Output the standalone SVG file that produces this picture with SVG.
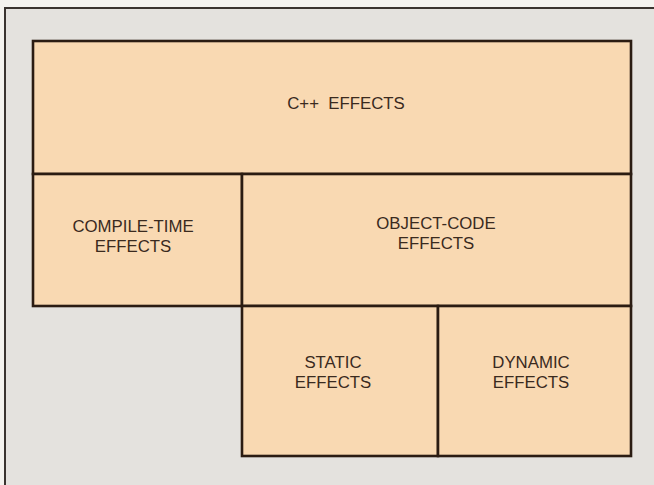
<svg xmlns="http://www.w3.org/2000/svg" width="654" height="485" viewBox="0 0 654 485">
<style>
.box{fill:#F9D9B2;stroke:#2B1C12;stroke-width:2.6}
.t{font-family:"Liberation Sans",Arial,sans-serif;font-size:16.8px;fill:#3A2A1E;text-anchor:middle}
</style>
<rect x="0" y="0" width="654" height="485" fill="#F4F3EF"/>
<rect x="5" y="8" width="660" height="490" fill="#E4E2DE" stroke="#3A3430" stroke-width="2"/>
<g id="cpp">
<rect class="box" x="33" y="41" width="598" height="133"/>
<text class="t" x="346" y="109" xml:space="preserve">C++  EFFECTS</text>
</g>
<g id="compile">
<rect class="box" x="33" y="174" width="209" height="132"/>
<text class="t" x="133" y="232">COMPILE-TIME</text>
<text class="t" x="133" y="252">EFFECTS</text>
</g>
<g id="objcode">
<rect class="box" x="242" y="174" width="389" height="132"/>
<text class="t" x="436" y="229">OBJECT-CODE</text>
<text class="t" x="436" y="249">EFFECTS</text>
</g>
<g id="static">
<rect class="box" x="242" y="306" width="196" height="150"/>
<text class="t" x="333" y="368">STATIC</text>
<text class="t" x="333" y="388">EFFECTS</text>
</g>
<g id="dynamic">
<rect class="box" x="438" y="306" width="193" height="150"/>
<text class="t" x="531" y="368">DYNAMIC</text>
<text class="t" x="531" y="388">EFFECTS</text>
</g>
<g id="connectors"></g>
</svg>
